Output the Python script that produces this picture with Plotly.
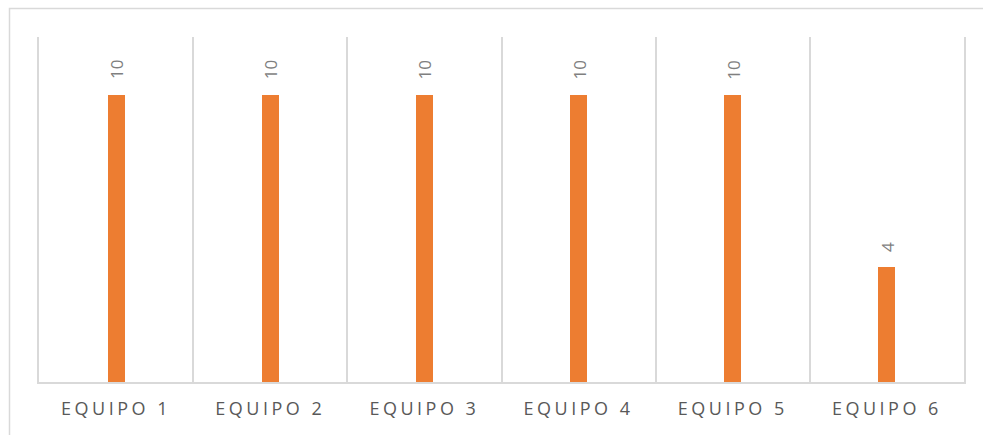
import plotly.graph_objects as go

categories = ["EQUIPO 1", "EQUIPO 2", "EQUIPO 3", "EQUIPO 4", "EQUIPO 5", "EQUIPO 6"]
values = [10, 10, 10, 10, 10, 4]

W, H = 983, 435
L, R, T, B = 39, 19, 37, 53
pw, ph = W - L - R, H - T - B

tick_text = ['<span style="letter-spacing:3.5px">%s</span>' % c for c in categories]

fig = go.Figure()
fig.add_trace(go.Bar(
    x=categories, y=values,
    marker=dict(color="#ED7D31", line=dict(width=0)),
    width=0.11,
    hoverinfo="skip",
))

for c, v in zip(categories, values):
    fig.add_annotation(
        x=c, y=v, text=str(v), textangle=-90, showarrow=False,
        xref="x", yref="y", yanchor="bottom", yshift=13,
        font=dict(family="Open Sans", size=17, color="#7f7f7f"),
    )

# outer chart border (cropped at right/bottom in reference)
fig.add_shape(type="rect", xref="paper", yref="paper",
              x0=(9.5 - L) / pw, x1=1.2, y0=-0.5, y1=(H - B - 8.5) / ph,
              line=dict(color="#d9d9d9", width=1.5), layer="below")

fig.update_layout(
    width=W, height=H,
    margin=dict(l=L, r=R, t=T, b=B, pad=0),
    paper_bgcolor="white", plot_bgcolor="white",
    showlegend=False,
    bargap=0,
    xaxis=dict(
        type="category", tickmode="array", tickvals=categories, ticktext=tick_text,
        range=[-0.5, 5.5], tickson="boundaries",
        showgrid=True, gridcolor="#d9d9d9", gridwidth=1.5,
        showline=True, linecolor="#d9d9d9", linewidth=1.5,
        ticks="", ticklen=0, ticklabelstandoff=10,
        tickfont=dict(family="Open Sans", size=18, color="#595959"),
        fixedrange=True,
    ),
    yaxis=dict(
        range=[0, 12], showgrid=False, zeroline=False,
        showticklabels=False, ticks="",
        showline=True, mirror=True, linecolor="#d9d9d9", linewidth=1.5,
        fixedrange=True,
    ),
)

fig.write_html("out.html")
